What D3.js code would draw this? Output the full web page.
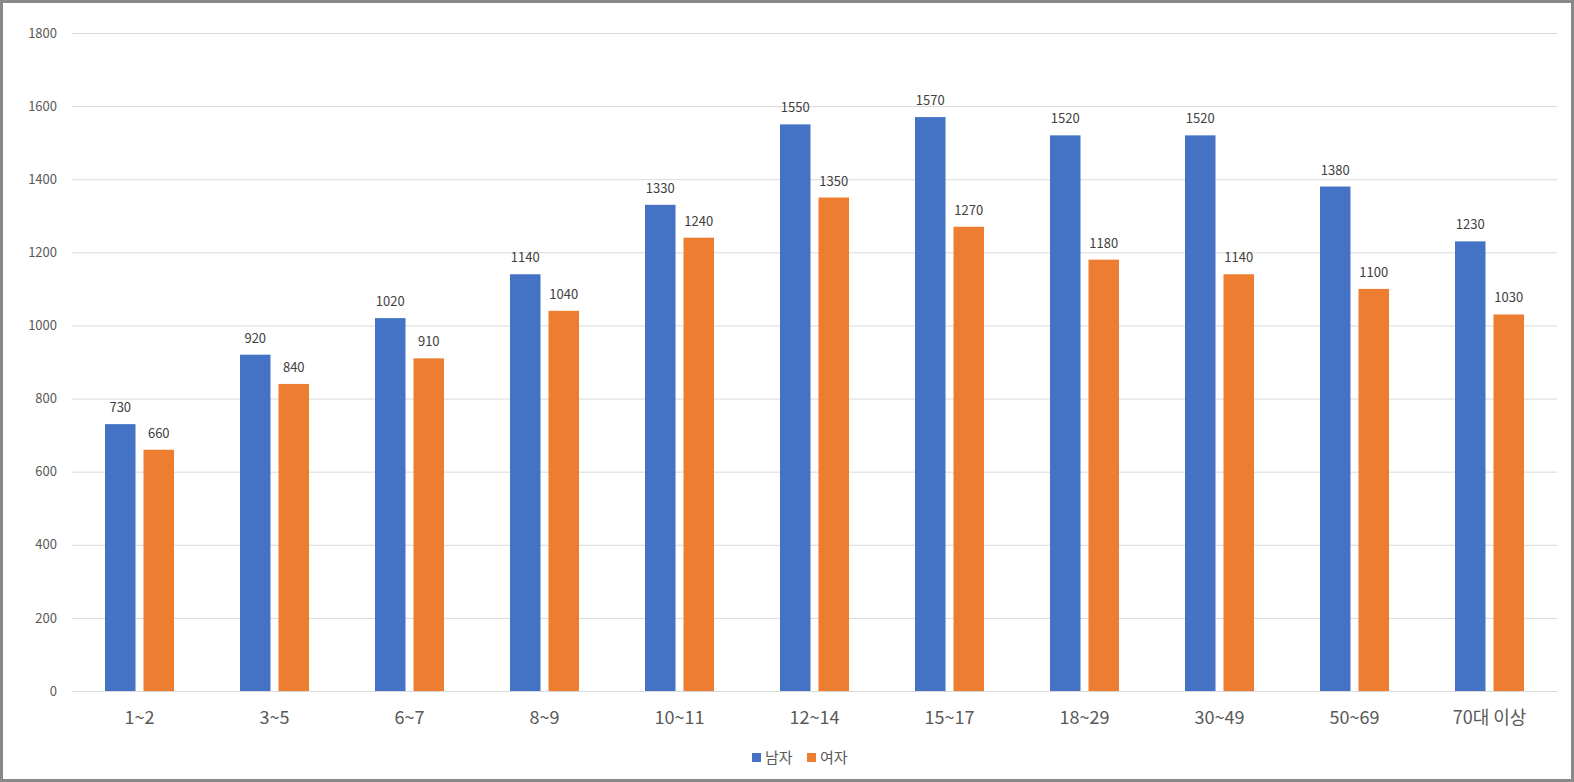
<!DOCTYPE html>
<html><head><meta charset="utf-8">
<script src="https://cdn.jsdelivr.net/npm/d3@7"></script>
<style>
html,body{margin:0;padding:0;background:#fff;}
svg{display:block;}
</style></head>
<body>
<svg id="chart" width="1574" height="782"></svg>
<script>
const categories = ["1~2","3~5","6~7","8~9","10~11","12~14","15~17","18~29","30~49","50~69","70대 이상"];
const seriesNames = ["남자","여자"];
const male = [730,920,1020,1140,1330,1550,1570,1520,1520,1380,1230];
const female = [660,840,910,1040,1240,1350,1270,1180,1140,1100,1030];
const yTicks = [0,200,400,600,800,1000,1200,1400,1600,1800];
const colors = ["#4472C4","#ED7D31"];

(function(){
const W = 1574, H = 782;
const svg = d3.select("#chart");
const font = "'Malgun Gothic','Noto Sans CJK KR','Noto Sans',sans-serif";

svg.append("rect").attr("x",1.5).attr("y",1.5).attr("width",W-3).attr("height",H-3)
  .attr("fill","#fff").attr("stroke","#898989").attr("stroke-width",3);

const mLeft = 72, mRight = 1557, mTop = 33, mBottom = 691;
const x = d3.scaleBand().domain(categories).range([mLeft,mRight]).paddingInner(0).paddingOuter(0);
const y = d3.scaleLinear().domain([0,1800]).range([mBottom,mTop]);
const inner = d3.scaleBand().domain(seriesNames).range([0,69]).paddingInner(8/38.5);
const groupOffset = (x.bandwidth()-69)/2;

svg.append("g").selectAll("line").data(yTicks.filter(d=>d>0)).join("line")
  .attr("x1",mLeft).attr("x2",mRight).attr("y1",d=>y(d)+0.5).attr("y2",d=>y(d)+0.5)
  .attr("stroke","#d9d9d9").attr("stroke-width",1);

const yAxis = d3.axisLeft(y).tickValues(yTicks).tickFormat(d3.format("d")).tickSize(0).tickPadding(15);
const gy = svg.append("g").attr("transform",`translate(${mLeft},0)`).call(yAxis);
gy.select(".domain").remove();
gy.selectAll("text").attr("font-family",font).attr("font-size",13).attr("fill","#595959");

const data = [male,female];
seriesNames.forEach((s,si)=>{
  const g = svg.append("g");
  g.selectAll("rect").data(categories).join("rect")
    .attr("x",(c)=>x(c)+groupOffset+inner(s))
    .attr("y",(c,i)=>y(data[si][i]))
    .attr("width",inner.bandwidth())
    .attr("height",(c,i)=>mBottom-y(data[si][i]))
    .attr("fill",colors[si]);
  g.selectAll("text").data(categories).join("text")
    .attr("x",(c)=>x(c)+groupOffset+inner(s)+inner.bandwidth()/2)
    .attr("y",(c,i)=>y(data[si][i])-12)
    .attr("text-anchor","middle")
    .attr("font-family",font).attr("font-size",13).attr("fill","#404040")
    .text((c,i)=>data[si][i]);
});

const xAxis = d3.axisBottom(x).tickSize(0).tickPadding(20);
const gx = svg.append("g").attr("transform",`translate(0,${mBottom})`).call(xAxis);
gx.select(".domain").attr("stroke","#d9d9d9").attr("stroke-width",1);
gx.selectAll("text").attr("font-family",font).attr("font-size",18).attr("fill","#595959");

const leg = svg.append("g");
const legItems = [{n:seriesNames[0],c:colors[0],x:752},{n:seriesNames[1],c:colors[1],x:807}];
legItems.forEach(it=>{
  leg.append("rect").attr("x",it.x).attr("y",753).attr("width",9).attr("height",9).attr("fill",it.c);
  leg.append("text").attr("x",it.x+13).attr("y",763).attr("font-family",font).attr("font-size",15)
    .attr("fill","#595959").text(it.n);
});
})();
</script>
</body></html>
